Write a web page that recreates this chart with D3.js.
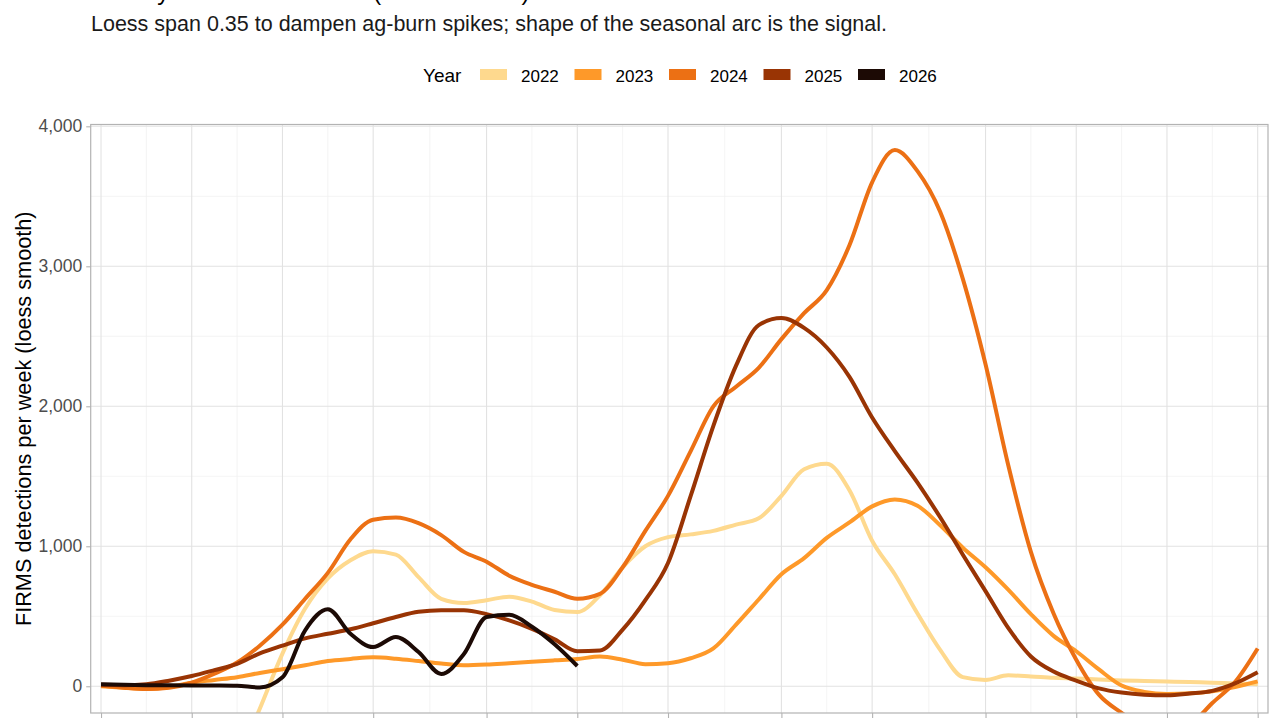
<!DOCTYPE html>
<html>
<head>
<meta charset="utf-8">
<script src="https://cdn.jsdelivr.net/npm/d3@7"></script>
<style>
  html, body { margin: 0; padding: 0; background: #fff; overflow: hidden; }
  text { font-family: "Liberation Sans", Arial, Helvetica, sans-serif; }
</style>
</head>
<body>
<svg id="chart" width="1280" height="720"></svg>
<script>
// weekly loess values, one array per year (null = no data)
const weeks = d3.range(1, 53);
const years = ["2022", "2023", "2024", "2025", "2026"];
const yearColors = ["#fed98e", "#fe9929", "#ec7014", "#993404", "#1c0a05"];

const y2022 = [null, null, null, null, null, null, -540, -160, 233, 555, 770, 900, 965, 940, 780, 625, 595, 615, 640, 605, 545, 530,
  650, 850, 1000, 1065, 1085, 1110, 1155, 1200, 1360, 1550, 1590, 1400, 1040, 800, 520, 260, 65, 45, 78, 70, 60, 55, 48, 42, 38, 34, 30, 25, 20, 15];
const y2023 = [0, -10, -20, -5, 25, 45, 65, 95, 122, 150, 180, 195, 207, 197, 180, 162, 150, 155, 165, 175, 185, 195,
  212, 190, 158, 165, 200, 270, 440, 620, 800, 915, 1060, 1170, 1285, 1335, 1290, 1150, 990, 850, 690, 515, 360, 250, 120, 5, -40, -55, -50, -35, -5, 35];
const y2024 = [5, -10, -20, -10, 25, 90, 170, 290, 440, 625, 810, 1050, 1190, 1205, 1165, 1080, 960, 890, 790, 725, 675, 625,
  660, 850, 1110, 1360, 1680, 2000, 2140, 2275, 2480, 2665, 2830, 3150, 3600, 3830, 3680, 3390, 2910, 2300, 1580, 960, 520, 190, -60, -190, -290, -340, -280, -120, 30, 270];
const y2025 = [10, 8, 15, 40, 73, 115, 160, 235, 290, 342, 375, 407, 450, 495, 532, 543, 543, 515, 470, 410, 335, 250,
  255, 405, 616, 880, 1360, 1860, 2290, 2580, 2630, 2560, 2420, 2210, 1920, 1680, 1455, 1207, 940, 680, 417, 213, 105, 40, -15, -45, -60, -64, -52, -33, 20, 100];
const y2026 = [14, 10, 8, 7, 6, 5, 3, -8, 64, 400, 550, 375, 280, 352, 245, 88, 230, 495, 510, 425, 300, 145,
  null, null, null, null, null, null, null, null, null, null, null, null, null, null, null, null, null, null, null, null, null, null, null, null, null, null, null, null, null, null];
const seriesValues = [y2022, y2023, y2024, y2025, y2026];

// major x breaks fall on the week each month starts
const xMajor = [1, 5, 9, 13, 18, 22, 26, 31, 35, 40, 44, 48, 52];
const yMajor = [0, 1000, 2000, 3000, 4000];

const titleText = "Weekly FIRMS detections (2022 to 2026)";
const subtitleText = "Loess span 0.35 to dampen ag-burn spikes; shape of the seasonal arc is the signal.";
const yTitle = "FIRMS detections per week (loess smooth)";

const svg = d3.select("#chart");
const panel = {left: 90.7, right: 1268, top: 124.5, bottom: 713};

const x = d3.scaleLinear().domain([0.545, 52.455]).range([panel.left, panel.right]);
const y = d3.scaleLinear().domain([-191, 4013]).range([panel.bottom, panel.top]);

// minor breaks sit halfway between majors (ggplot style)
const xMinor = d3.pairs(xMajor).map(([a, b]) => (a + b) / 2);
const yMinor = d3.pairs(yMajor).map(([a, b]) => (a + b) / 2);

// titles (the title line sits almost entirely above the frame, as in the reference)
svg.append("text").attr("x", 91).attr("y", -0.5)
  .attr("font-size", 24).attr("fill", "#000")
  .text(titleText);
svg.append("text").attr("x", 91).attr("y", 31)
  .attr("font-size", 21.5).attr("fill", "#1a1a1a")
  .text(subtitleText);

// legend
const legend = svg.append("g");
legend.append("text").attr("x", 423).attr("y", 82).attr("font-size", 19).attr("fill", "#000").text("Year");
years.forEach((yr, i) => {
  const kx = 480 + i * 94.5;
  legend.append("rect").attr("x", kx).attr("y", 69).attr("width", 27).attr("height", 11)
    .attr("fill", yearColors[i]);
  legend.append("text").attr("x", kx + 41).attr("y", 82).attr("font-size", 17).attr("fill", "#000").text(yr);
});

// grid
const grid = svg.append("g");
grid.selectAll(".xminor").data(xMinor).enter().append("line")
  .attr("x1", d => x(d)).attr("x2", d => x(d)).attr("y1", panel.top).attr("y2", panel.bottom)
  .attr("stroke", "#efefef").attr("stroke-width", 0.7);
grid.selectAll(".yminor").data(yMinor).enter().append("line")
  .attr("y1", d => y(d)).attr("y2", d => y(d)).attr("x1", panel.left).attr("x2", panel.right)
  .attr("stroke", "#efefef").attr("stroke-width", 0.7);
grid.selectAll(".xmajor").data(xMajor).enter().append("line")
  .attr("x1", d => x(d)).attr("x2", d => x(d)).attr("y1", panel.top).attr("y2", panel.bottom)
  .attr("stroke", "#e2e2e2").attr("stroke-width", 1.1);
grid.selectAll(".ymajor").data(yMajor).enter().append("line")
  .attr("y1", d => y(d)).attr("y2", d => y(d)).attr("x1", panel.left).attr("x2", panel.right)
  .attr("stroke", "#e2e2e2").attr("stroke-width", 1.1);

// lines, clipped to the panel like coord_cartesian
svg.append("clipPath").attr("id", "panelClip").append("rect")
  .attr("x", panel.left).attr("y", panel.top)
  .attr("width", panel.right - panel.left).attr("height", panel.bottom - panel.top);

const line = d3.line()
  .defined(d => d.v !== null)
  .x(d => x(d.w))
  .y(d => y(d.v))
  .curve(d3.curveMonotoneX);

svg.append("g").attr("clip-path", "url(#panelClip)")
  .selectAll("path").data(seriesValues).enter().append("path")
  .attr("d", vals => line(weeks.map((w, i) => ({w: w, v: vals[i]}))))
  .attr("fill", "none")
  .attr("stroke", (d, i) => yearColors[i])
  .attr("stroke-width", 4)
  .attr("stroke-linejoin", "round");

// axes
const yAxis = d3.axisLeft(y).tickValues(yMajor).tickSize(4.5).tickPadding(4).tickFormat(d3.format(","));
svg.append("g").attr("transform", `translate(${panel.left},0)`).call(yAxis)
  .call(g => g.select(".domain").remove())
  .call(g => g.selectAll(".tick line").attr("stroke", "#b3b3b3").attr("stroke-width", 1.1))
  .call(g => g.selectAll(".tick text").attr("font-size", 17.5).attr("fill", "#4d4d4d")
    .attr("font-family", "'Liberation Sans', Arial, sans-serif"));

// x tick labels sit below the visible frame in the reference, so only the marks are drawn
const xAxis = d3.axisBottom(x).tickValues(xMajor).tickSize(5).tickFormat("");
svg.append("g").attr("transform", `translate(0,${panel.bottom})`).call(xAxis)
  .call(g => g.select(".domain").remove())
  .call(g => g.selectAll(".tick line").attr("stroke", "#b3b3b3").attr("stroke-width", 1.1));

// panel border
svg.append("rect").attr("x", panel.left).attr("y", panel.top)
  .attr("width", panel.right - panel.left).attr("height", panel.bottom - panel.top)
  .attr("fill", "none").attr("stroke", "#b3b3b3").attr("stroke-width", 1.2);

// y title
svg.append("text")
  .attr("transform", `translate(31,${(panel.top + panel.bottom) / 2}) rotate(-90)`)
  .attr("text-anchor", "middle").attr("font-size", 21.7).attr("fill", "#000")
  .text(yTitle);
</script>
</body>
</html>
